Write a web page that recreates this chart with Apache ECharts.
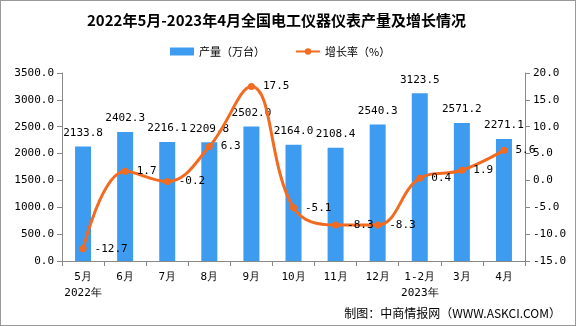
<!DOCTYPE html>
<html><head><meta charset="utf-8">
<script src="https://cdn.jsdelivr.net/npm/echarts@6/dist/echarts.min.js"></script>
<style>html,body{margin:0;padding:0;background:#fff}#c{width:574px;height:324px;border:1px solid #999}</style>
</head><body><div id="c"></div>
<script>
const categories = ['5月\n2022年','6月','7月','8月','9月','10月','11月','12月','1-2月\n2023年','3月','4月'];
const output = [2133.8,2402.3,2216.1,2209.8,2502.0,2164.0,2108.4,2540.3,3123.5,2571.2,2271.1];
const growth = [-12.7,1.7,-0.2,6.3,17.5,-5.1,-8.3,-8.3,0.4,1.9,5.6];
const leftTicks = [0,3500,500];
const rightTicks = [-15,20,5];
const font = '"DejaVu Sans Mono", monospace';
const chart = echarts.init(document.getElementById('c'));
chart.setOption({
  animation:false,
  title:{text:'2022年5月-2023年4月全国电工仪器仪表产量及增长情况',left:81,top:7,
    textStyle:{fontSize:15,fontWeight:'bold',color:'#000',fontFamily:'"Noto Sans CJK SC"'}},
  legend:{top:40,left:164,itemGap:30,itemWidth:24,itemHeight:8,
    textStyle:{fontSize:11,color:'#000',fontFamily:'"Noto Sans CJK SC"'},
    data:[{name:'产量（万台）',icon:'rect'},{name:'增长率（%）'}]},
  graphic:[{type:'text',right:14,bottom:6,style:{text:'制图：中商情报网（WWW.ASKCI.COM）',fill:'#000',
    font:'12px "Noto Sans CJK SC"'}}],
  grid:{left:61,right:50,top:72,bottom:64},
  xAxis:{type:'category',data:categories,
    axisLine:{lineStyle:{color:'#888'}},axisTick:{show:true,alignWithLabel:false,length:5,lineStyle:{color:'#888'}},
    axisLabel:{color:'#000',fontSize:11,fontFamily:font,interval:0,margin:8,lineHeight:16}},
  yAxis:[
    {type:'value',min:leftTicks[0],max:leftTicks[1],interval:leftTicks[2],
     axisLine:{show:true,lineStyle:{color:'#888'}},axisTick:{show:true,lineStyle:{color:'#888'}},splitLine:{show:false},
     axisLabel:{color:'#000',fontSize:11,fontFamily:font,formatter:v=>v.toFixed(1),margin:8}},
    {type:'value',min:rightTicks[0],max:rightTicks[1],interval:rightTicks[2],
     axisLine:{show:true,lineStyle:{color:'#888'}},axisTick:{show:true,lineStyle:{color:'#888'}},splitLine:{show:false},
     axisLabel:{color:'#000',fontSize:11,fontFamily:font,formatter:v=>v.toFixed(1),margin:8}}
  ],
  series:[
    {name:'产量（万台）',type:'bar',data:output,barWidth:16,itemStyle:{color:'#3d9cf0'},
     label:{show:true,position:'top',distance:8,color:'#000',fontSize:11,fontFamily:font,formatter:p=>p.value.toFixed(1)}},
    {name:'增长率（%）',type:'line',yAxisIndex:1,data:growth,smooth:0.4,symbol:'circle',symbolSize:7,
     lineStyle:{color:'#f36a21',width:3},itemStyle:{color:'#f36a21'},
     label:{show:true,position:'right',distance:8,color:'#000',fontSize:11,fontFamily:font,formatter:p=>p.value.toFixed(1)}}
  ]
});
</script></body></html>
